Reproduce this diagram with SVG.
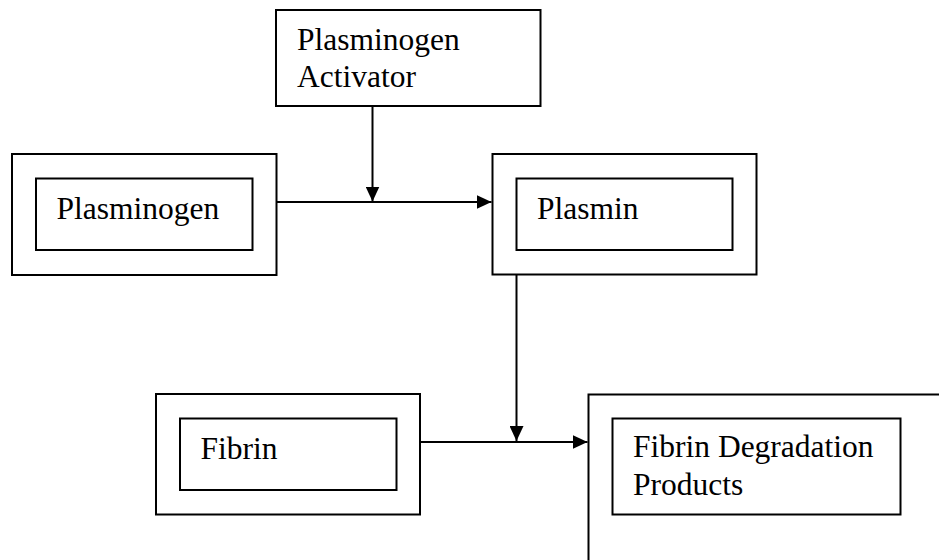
<svg xmlns="http://www.w3.org/2000/svg" width="939" height="560" viewBox="0 0 939 560">
  <style>
    .box { fill: none; stroke: #000; stroke-width: 2; }
    .lbl { font-family: "Liberation Serif", "Times New Roman", serif; font-size: 31.5px; fill: #000; }
    .wire { fill: none; stroke: #000; stroke-width: 2; }
  </style>
  <defs>
    <marker id="arrow" viewBox="0 0 15 14" refX="15" refY="7" markerWidth="15" markerHeight="14" markerUnits="userSpaceOnUse" orient="auto">
      <path d="M0,0 L15,7 L0,14 Z" fill="#000"/>
    </marker>
  </defs>
  <rect width="939" height="560" fill="#fff"/>

  <g id="plasminogen-activator">
    <rect class="box" x="276" y="10" width="264.5" height="96"/>
    <text class="lbl" x="297" y="50">Plasminogen</text>
    <text class="lbl" x="297" y="87">Activator</text>
  </g>

  <g id="plasminogen">
    <rect class="box" x="12" y="154" width="264.5" height="121"/>
    <rect class="box" x="36" y="178.5" width="216.5" height="71.5"/>
    <text class="lbl" x="56.5" y="219">Plasminogen</text>
  </g>

  <g id="plasmin">
    <rect class="box" x="492.5" y="154" width="264" height="120.5"/>
    <rect class="box" x="516.5" y="178.5" width="216" height="71.5"/>
    <text class="lbl" x="537" y="219">Plasmin</text>
  </g>

  <g id="fibrin">
    <rect class="box" x="156" y="394" width="264" height="120.5"/>
    <rect class="box" x="180" y="418.5" width="216.5" height="71.5"/>
    <text class="lbl" x="200.5" y="459">Fibrin</text>
  </g>

  <g id="fibrin-degradation-products">
    <path class="box" d="M588.5,562 V394.5 H941"/>
    <rect class="box" x="612.5" y="418.5" width="288" height="96"/>
    <text class="lbl" x="633" y="457">Fibrin Degradation</text>
    <text class="lbl" x="633" y="495">Products</text>
  </g>

  <g id="connectors">
    <line class="wire" x1="276.5" y1="202" x2="491.5" y2="202" marker-end="url(#arrow)"/>
    <line class="wire" x1="372.5" y1="106" x2="372.5" y2="201.5" marker-end="url(#arrow)"/>
    <line class="wire" x1="420" y1="442" x2="587.5" y2="442" marker-end="url(#arrow)"/>
    <line class="wire" x1="516.5" y1="274.5" x2="516.5" y2="441" marker-end="url(#arrow)"/>
  </g>
</svg>
